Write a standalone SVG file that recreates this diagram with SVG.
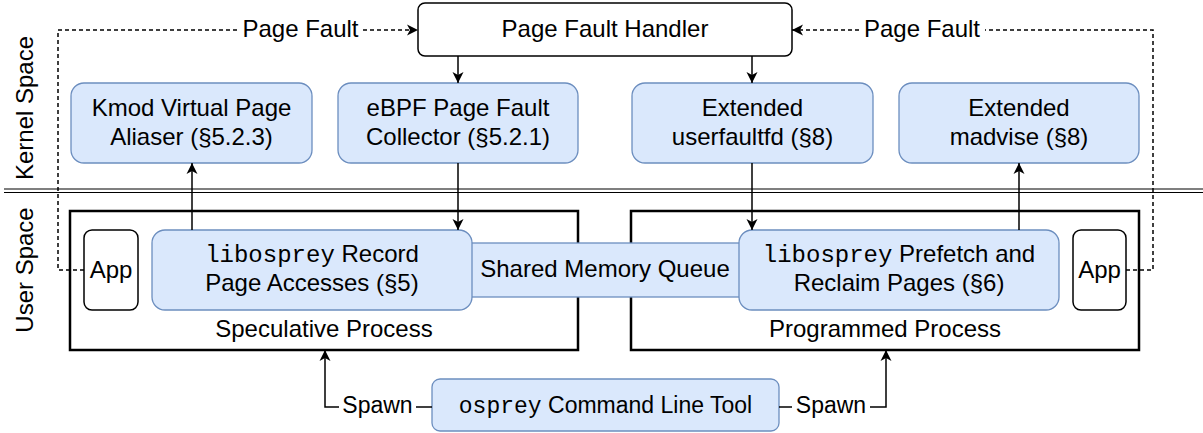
<svg xmlns="http://www.w3.org/2000/svg" width="1203" height="433" viewBox="0 0 1203 433">
  <style>
    text { font-family: "Liberation Sans", Arial, sans-serif; font-size: 24px; fill: #000; }
    .mono { font-family: "Liberation Mono", "Courier New", monospace; }
    .small { font-size: 23px; }
    .blue { fill: #dae8fc; stroke: #6c8ebf; stroke-width: 1.3; }
    .plain { fill: #fff; stroke: #000; stroke-width: 1.5; }
    .proc { fill: #fff; stroke: #000; stroke-width: 2.5; }
    .edge { fill: none; stroke: #000; stroke-width: 1.5; }
    .dash { fill: none; stroke: #000; stroke-width: 1.5; stroke-dasharray: 4 3; }
  </style>
  <defs>
    <marker id="arrow" markerUnits="userSpaceOnUse" markerWidth="12" markerHeight="12" viewBox="0 0 12 12" refX="11" refY="6" orient="auto">
      <path d="M0,0.5 L11,6 L0,11.5 L3,6 Z" fill="#000"/>
    </marker>
  </defs>

  <rect width="1203" height="433" fill="#fff"/>

  <!-- kernel / user boundary and side labels -->
  <g id="boundary">
    <line x1="4" y1="189" x2="1203" y2="189" stroke="#000" stroke-width="1.2"/>
    <line x1="4" y1="192.5" x2="1203" y2="192.5" stroke="#000" stroke-width="1.2"/>
    <text transform="translate(33,108) rotate(-90)" text-anchor="middle">Kernel Space</text>
    <text transform="translate(33,270) rotate(-90)" text-anchor="middle">User Space</text>
  </g>

  <!-- process containers -->
  <g id="speculative-process">
    <rect class="proc" x="70" y="211" width="508" height="139"/>
    <text x="324" y="337" text-anchor="middle">Speculative Process</text>
  </g>
  <g id="programmed-process">
    <rect class="proc" x="631" y="211" width="508" height="139"/>
    <text x="885" y="337" text-anchor="middle">Programmed Process</text>
  </g>

  <!-- kernel space nodes -->
  <g id="page-fault-handler">
    <rect class="plain" x="418" y="3" width="374" height="53" rx="7"/>
    <text x="605" y="37" text-anchor="middle">Page Fault Handler</text>
  </g>
  <g id="kmod-aliaser">
    <rect class="blue" x="71" y="83" width="241" height="80" rx="13"/>
    <text x="191.5" y="116" text-anchor="middle">Kmod Virtual Page</text>
    <text x="191.5" y="145" text-anchor="middle">Aliaser (§5.2.3)</text>
  </g>
  <g id="ebpf-collector">
    <rect class="blue" x="338" y="83" width="240" height="80" rx="13"/>
    <text x="458" y="116" text-anchor="middle">eBPF Page Fault</text>
    <text x="458" y="145" text-anchor="middle">Collector (§5.2.1)</text>
  </g>
  <g id="userfaultfd">
    <rect class="blue" x="632" y="83" width="241" height="80" rx="13"/>
    <text x="752.5" y="116" text-anchor="middle">Extended</text>
    <text x="752.5" y="145" text-anchor="middle">userfaultfd (§8)</text>
  </g>
  <g id="madvise">
    <rect class="blue" x="899" y="83" width="240" height="80" rx="13"/>
    <text x="1019" y="116" text-anchor="middle">Extended</text>
    <text x="1019" y="145" text-anchor="middle">madvise (§8)</text>
  </g>

  <!-- user space nodes -->
  <g id="shared-memory-queue">
    <rect class="blue" x="465" y="243" width="281" height="54"/>
    <text x="605" y="277" text-anchor="middle">Shared Memory Queue</text>
  </g>
  <g id="app-left">
    <rect class="plain" x="84" y="230" width="54" height="80" rx="8"/>
    <text x="111" y="278" text-anchor="middle">App</text>
  </g>
  <g id="record-accesses">
    <rect class="blue" x="152" y="230" width="320" height="80" rx="13"/>
    <text x="312" y="262" text-anchor="middle"><tspan class="mono">libosprey</tspan> Record</text>
    <text x="312" y="291" text-anchor="middle">Page Accesses (§5)</text>
  </g>
  <g id="prefetch-reclaim">
    <rect class="blue" x="739" y="230" width="320" height="80" rx="13"/>
    <text x="899" y="262" text-anchor="middle"><tspan class="mono">libosprey</tspan> Prefetch and</text>
    <text x="899" y="291" text-anchor="middle">Reclaim Pages (§6)</text>
  </g>
  <g id="app-right">
    <rect class="plain" x="1073" y="230" width="53" height="80" rx="8"/>
    <text x="1099.5" y="278" text-anchor="middle">App</text>
  </g>

  <!-- command line tool -->
  <g id="osprey-cli">
    <rect class="blue" x="432" y="379" width="347" height="52" rx="8"/>
    <text class="small" x="605.5" y="413" text-anchor="middle"><tspan class="mono">osprey</tspan> Command Line Tool</text>
  </g>

  <!-- connectors -->
  <g id="connectors">
    <line class="edge" x1="458" y1="56" x2="458" y2="83" marker-end="url(#arrow)"/>
    <line class="edge" x1="752" y1="56" x2="752" y2="83" marker-end="url(#arrow)"/>
    <line class="edge" x1="458" y1="163" x2="458" y2="230" marker-end="url(#arrow)"/>
    <line class="edge" x1="752" y1="163" x2="752" y2="230" marker-end="url(#arrow)"/>
    <line class="edge" x1="192" y1="230" x2="192" y2="163" marker-end="url(#arrow)"/>
    <line class="edge" x1="1019" y1="230" x2="1019" y2="163" marker-end="url(#arrow)"/>

    <!-- page fault paths from the apps -->
    <path class="dash" d="M84,270 H58 V30 H239"/>
    <path class="dash" d="M363,30 H418" marker-end="url(#arrow)"/>
    <text x="300.5" y="37" text-anchor="middle">Page Fault</text>
    <path class="dash" d="M1126,270 H1153 V30 H985"/>
    <path class="dash" d="M859,30 H792" marker-end="url(#arrow)"/>
    <text x="922" y="37" text-anchor="middle">Page Fault</text>

    <!-- spawn paths -->
    <path class="edge" d="M432,407 H416"/>
    <path class="edge" d="M339,407 H325 V350" marker-end="url(#arrow)"/>
    <text class="small" x="377.5" y="413" text-anchor="middle">Spawn</text>
    <path class="edge" d="M779,407 H792"/>
    <path class="edge" d="M870,407 H886 V350" marker-end="url(#arrow)"/>
    <text class="small" x="831" y="413" text-anchor="middle">Spawn</text>
  </g>
</svg>
